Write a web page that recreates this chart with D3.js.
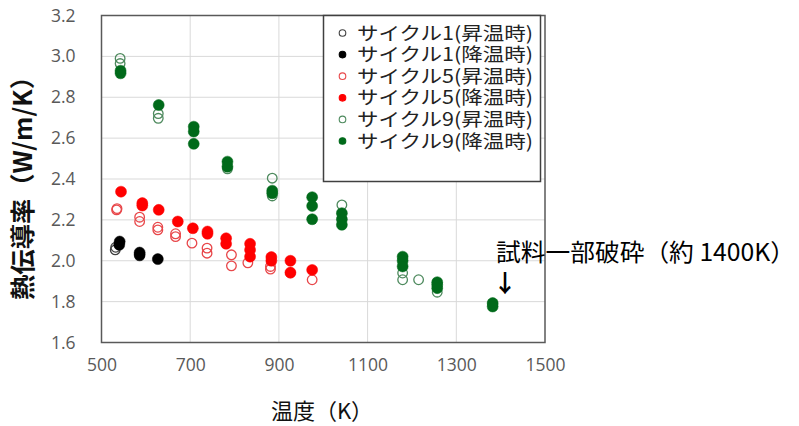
<!DOCTYPE html>
<html><head><meta charset="utf-8">
<script src="https://cdn.jsdelivr.net/npm/d3@7/dist/d3.min.js"></script>
<style>body{margin:0;background:#fff}svg{display:block}</style>
</head><body>
<script>
// Data: [temperature K, thermal conductivity W/m/K]
const c1Up   = [[531,2.053],[532,2.066],[586,2.024]];
const c1Down = [[541,2.094],[540,2.078],[586,2.040],[586,2.029],[627,2.008]];
const c5Up   = [[534,2.249],[535,2.255],[586,2.213],[586,2.192],[627,2.164],[627,2.151],[667,2.132],[667,2.118],[704,2.086],[738,2.062],[738,2.037],[793,2.029],[793,1.975],[830,1.990],[881,1.972],[881,1.959],[926,1.940],[975,1.907]];
const c5Down = [[544,2.338],[592,2.282],[592,2.270],[629,2.249],[672,2.192],[706,2.159],[739,2.143],[739,2.132],[781,2.110],[781,2.083],[835,2.083],[835,2.053],[835,2.020],[883,2.018],[883,2.000],[926,2.000],[926,1.942],[975,1.955]];
const c9Up   = [[542,2.990],[542,2.965],[628,2.720],[628,2.697],[784,2.450],[885,2.404],[885,2.317],[1042,2.273],[1179,1.940],[1179,1.907],[1215,1.907],[1257,1.846],[1382,1.790]];
const c9Down = [[543,2.917],[543,2.930],[629,2.762],[708,2.656],[708,2.632],[708,2.572],[784,2.485],[784,2.460],[885,2.343],[885,2.330],[975,2.311],[975,2.268],[975,2.203],[1042,2.233],[1042,2.203],[1042,2.176],[1179,2.020],[1179,2.000],[1179,1.972],[1257,1.895],[1257,1.882],[1257,1.866],[1382,1.793],[1382,1.776]];

const seriesNames = ["サイクル1(昇温時)","サイクル1(降温時)","サイクル5(昇温時)","サイクル5(降温時)","サイクル9(昇温時)","サイクル9(降温時)"];
const seriesData = [c1Up,c1Down,c5Up,c5Down,c9Up,c9Down];
const seriesFilled = [false,true,false,true,false,true];
const seriesColors = ["#404040","#000000","#e8474a","#ff0000","#4e8a5e","#006a1a"];
const xTicks = [500,700,900,1100,1300,1500];
const yTicks = [1.6,1.8,2.0,2.2,2.4,2.6,2.8,3.0,3.2];
const xTitle = "温度（K）";
const yTitle = "熱伝導率（W/m/K）";
const note = "試料一部破砕（約 1400K）";
const noteArrow = "↓";

const W=799,H=426;
const svg=d3.select("body").append("svg").attr("width",W).attr("height",H);
const x=d3.scaleLinear().domain([500,1500]).range([101.5,545]);
const y=d3.scaleLinear().domain([1.6,3.2]).range([342.5,15.5]);

// gridlines
svg.append("g").selectAll("line").data(xTicks.slice(1,-1)).join("line")
  .attr("x1",d=>x(d)).attr("x2",d=>x(d)).attr("y1",y(3.2)).attr("y2",y(1.6))
  .attr("stroke","#d9d9d9").attr("stroke-width",1);
svg.append("g").selectAll("line").data(yTicks.slice(1,-1)).join("line")
  .attr("x1",x(500)).attr("x2",x(1500)).attr("y1",d=>y(d)).attr("y2",d=>y(d))
  .attr("stroke","#d9d9d9").attr("stroke-width",1);

// axes (labels only)
const fontTick="'Open Sans','Noto Sans',sans-serif";
const xa=svg.append("g").attr("transform",`translate(0,${y(1.6)})`)
  .call(d3.axisBottom(x).tickValues(xTicks).tickSize(0).tickPadding(16).tickFormat(d3.format("d")));
xa.select(".domain").remove();
xa.selectAll("text").attr("font-family",fontTick).attr("font-size",17.5).attr("fill","#595959");
const ya=svg.append("g").attr("transform",`translate(${x(500)},0)`)
  .call(d3.axisLeft(y).tickValues(yTicks).tickSize(0).tickPadding(26).tickFormat(d3.format(".1f")));
ya.select(".domain").remove();
ya.selectAll("text").attr("font-family",fontTick).attr("font-size",17.5).attr("fill","#595959");

// plot border
svg.append("rect").attr("x",x(500)).attr("y",y(3.2)).attr("width",x(1500)-x(500)).attr("height",y(1.6)-y(3.2))
  .attr("fill","none").attr("stroke","#595959").attr("stroke-width",1.5);

// points
seriesData.forEach((data,i)=>{
  svg.append("g").selectAll("circle").data(data).join("circle")
    .attr("cx",d=>x(d[0])).attr("cy",d=>y(d[1])).attr("r",seriesFilled[i]?5.5:4.8)
    .attr("fill",seriesFilled[i]?seriesColors[i]:"none")
    .attr("stroke",seriesColors[i]).attr("stroke-width",seriesFilled[i]?0.5:1.3);
});

// legend
const lg=svg.append("g");
lg.append("rect").attr("x",323.5).attr("y",15.5).attr("width",217).attr("height",166)
  .attr("fill","#fff").attr("stroke","#404040").attr("stroke-width",1.5);
seriesNames.forEach((n,i)=>{
  const cy=33+i*21.6;
  lg.append("circle").attr("cx",342.5).attr("cy",cy).attr("r",3.3)
    .attr("fill",seriesFilled[i]?seriesColors[i]:"none").attr("stroke",seriesColors[i]).attr("stroke-width",1.1);
  lg.append("text").attr("x",357).attr("y",cy+6.5).text(n)
    .attr("textLength",176).attr("lengthAdjust","spacingAndGlyphs")
    .attr("font-family","'Noto Sans CJK JP',sans-serif").attr("font-size",18.5).attr("fill","#222");
});

// titles
svg.append("text").attr("x",322).attr("y",419).attr("text-anchor","middle").text(xTitle)
  .attr("font-family","'Noto Sans CJK JP',sans-serif").attr("font-size",22).attr("fill","#111");
svg.append("text").attr("transform","translate(32,182) rotate(-90)").attr("text-anchor","middle").text(yTitle)
  .attr("textLength",236).attr("lengthAdjust","spacingAndGlyphs")
  .attr("font-family","'Noto Sans CJK JP',sans-serif").attr("font-size",25).attr("font-weight","bold").attr("fill","#111");

// annotation
svg.append("text").attr("x",496).attr("y",261).text(note)
  .attr("textLength",299).attr("lengthAdjust","spacingAndGlyphs")
  .attr("font-family","'Noto Sans CJK JP',sans-serif").attr("font-size",24).attr("fill","#000");
svg.append("text").attr("x",x(1410)).attr("y",292).attr("text-anchor","middle").text(noteArrow)
  .attr("font-family","'Noto Sans CJK JP',sans-serif").attr("font-size",24).attr("font-weight","bold").attr("fill","#000");
</script>
</body></html>
